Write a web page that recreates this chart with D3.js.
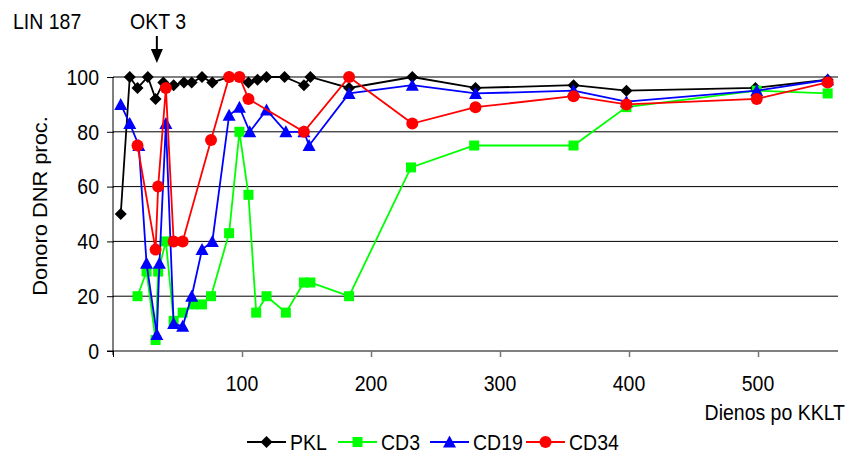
<!DOCTYPE html>
<html>
<head>
<meta charset="utf-8">
<script src="https://cdn.jsdelivr.net/npm/d3@7/dist/d3.min.js"></script>
<style>
  html, body { margin: 0; padding: 0; background: #fff; }
  svg { display: block; font-family: "Liberation Sans", Arial, Helvetica, sans-serif; }
</style>
</head>
<body>
<svg id="chart" width="849" height="459"></svg>
<script>
// Days after transplantation and donor DNA percentage per cell fraction
const pklDays = [6, 13, 19, 27, 33, 39, 47, 55, 61, 69, 77, 90, 105, 112, 119, 133, 148, 153, 183, 232, 281, 357, 398, 498, 554];
const pklVals = [50, 100, 96, 100, 92, 98, 97, 98, 98, 100, 98, 100, 98, 99, 100, 100, 97, 100, 96, 100, 96, 97, 95, 96, 99];

const cd3Days = [19, 26, 33, 35, 41, 47, 54, 62, 69, 76, 90, 98, 105, 111, 119, 134, 148, 153, 183, 231, 280, 357, 398, 499, 554];
const cd3Vals = [20, 29, 4, 29, 40, 11, 14, 17, 17, 20, 43, 80, 57, 14, 20, 14, 25, 25, 20, 67, 75, 75, 89, 95, 94];

const cd19Days = [6, 13, 20, 26, 34, 36, 41, 47, 54, 61, 69, 77, 90, 98, 106, 119, 134, 148, 152, 183, 232, 281, 357, 398, 499, 554];
const cd19Vals = [90, 83, 75, 32, 6, 32, 83, 10, 9, 20, 37, 40, 86, 89, 80, 88, 80, 80, 75, 94, 97, 94, 95, 91, 95, 99];

const cd34Days = [19, 33, 35, 41, 47, 54, 76, 90, 98, 105, 148, 183, 232, 281, 357, 398, 499, 554];
const cd34Vals = [75, 37, 60, 96, 40, 40, 77, 100, 100, 92, 80, 100, 83, 89, 93, 90, 92, 98];

const xTicks = [100, 200, 300, 400, 500];
const yTicks = [0, 20, 40, 60, 80, 100];

const series = [
  { name: "PKL",  days: pklDays,  vals: pklVals,  color: "#000000", marker: "diamond" },
  { name: "CD3",  days: cd3Days,  vals: cd3Vals,  color: "#00ff00", marker: "square" },
  { name: "CD19", days: cd19Days, vals: cd19Vals, color: "#0000ff", marker: "triangle" },
  { name: "CD34", days: cd34Days, vals: cd34Vals, color: "#ff0000", marker: "circle" }
];

const FONT = 19.5;      // text size
const STRETCH = 1.12;   // glyphs are drawn slightly taller than wide

const svg = d3.select("#chart");
const plot = { left: 113, right: 838, top: 77, bottom: 351 };

const x = d3.scaleLinear().domain([0, 562]).range([plot.left, plot.right]);
const y = d3.scaleLinear().domain([0, 100]).range([plot.bottom, plot.top]);

// Text with its baseline at (tx, ty), stretched vertically
function label(parent, tx, ty, str, anchor) {
  return parent.append("text")
    .attr("transform", `translate(${tx},${ty}) scale(1,${STRETCH})`)
    .attr("text-anchor", anchor || "start")
    .attr("font-size", FONT).attr("fill", "#000")
    .text(str);
}

// Horizontal gridlines
svg.append("g")
  .selectAll("line")
  .data(yTicks.filter(v => v > 0))
  .join("line")
  .attr("x1", plot.left).attr("x2", plot.right)
  .attr("y1", d => y(d)).attr("y2", d => y(d))
  .attr("stroke", "#000").attr("stroke-width", 1);

// Axes (tick labels are placed separately below)
const gy = svg.append("g").attr("transform", `translate(${plot.left},0)`)
  .call(d3.axisLeft(y).tickValues(yTicks).tickSize(6).tickFormat(""));
gy.select(".domain").attr("d", `M0,${plot.bottom + 4}V${plot.top}`).attr("stroke", "#000");
gy.selectAll(".tick line").attr("x2", -6).attr("x1", 1);

const gx = svg.append("g").attr("transform", `translate(0,${plot.bottom})`)
  .call(d3.axisBottom(x).tickValues([0].concat(xTicks)).tickSize(6).tickFormat(""));
gx.select(".domain").attr("d", `M${plot.left - 6},0H${plot.right}`).attr("stroke", "#000");
gx.selectAll(".tick line").attr("stroke", d => d === 0 ? "#000" : "#777").attr("stroke-width", d => d === 0 ? 1 : 1.5);

const yLab = svg.append("g");
yTicks.forEach(v => label(yLab, 99, y(v) + 7.8, d3.format("d")(v), "end"));
const xLab = svg.append("g");
xTicks.forEach(v => label(xLab, x(v), 391, v, "middle"));

// Marker shapes
function markerPath(type) {
  switch (type) {
    case "diamond":  return "M0,-6L6,0L0,6L-6,0Z";
    case "square":   return "M-5,-5H5V5H-5Z";
    case "triangle": return "M0,-6.5L6.5,5.5H-6.5Z";
    default:         return null;
  }
}
function drawMarker(g, type, color) {
  if (type === "circle") {
    g.append("circle").attr("r", 6).attr("fill", color);
  } else {
    g.append("path").attr("d", markerPath(type)).attr("fill", color);
  }
}

const line = d3.line().x(d => x(d[0])).y(d => y(d[1]));

series.forEach(s => {
  const pts = s.days.map((d, i) => [d, s.vals[i]]);
  const g = svg.append("g");
  g.append("path").datum(pts).attr("d", line)
    .attr("fill", "none").attr("stroke", s.color).attr("stroke-width", 1.8);
  g.selectAll("g.pt").data(pts).join("g").attr("class", "pt")
    .attr("transform", d => `translate(${x(d[0])},${y(d[1])})`)
    .each(function () { drawMarker(d3.select(this), s.marker, s.color); });
});

// Titles and annotation
label(svg, 13, 29, "LIN 187");
label(svg, 158, 29, "OKT 3", "middle");
svg.append("line").attr("x1", x(34)).attr("x2", x(34)).attr("y1", 36).attr("y2", 52)
  .attr("stroke", "#000").attr("stroke-width", 2);
svg.append("path").attr("d", `M${x(34) - 6},49L${x(34) + 6},49L${x(34)},63Z`).attr("fill", "#000");

svg.append("text")
  .attr("transform", `translate(47,206) rotate(-90) scale(${STRETCH},1)`)
  .attr("text-anchor", "middle").attr("font-size", FONT).text("Donoro DNR proc.");

label(svg, 845, 420, "Dienos po KKLT", "end");

// Legend
const legendX = [247, 338, 430, 526];
const legend = svg.append("g");
series.forEach((s, i) => {
  const g = legend.append("g").attr("transform", `translate(${legendX[i]},442)`);
  g.append("line").attr("x1", 0).attr("x2", 39).attr("stroke", s.color).attr("stroke-width", 1.8);
  const m = g.append("g").attr("transform", "translate(19.5,0)");
  drawMarker(m, s.marker, s.color);
  label(g, 43, 7.5, s.name);
});
</script>
</body>
</html>
